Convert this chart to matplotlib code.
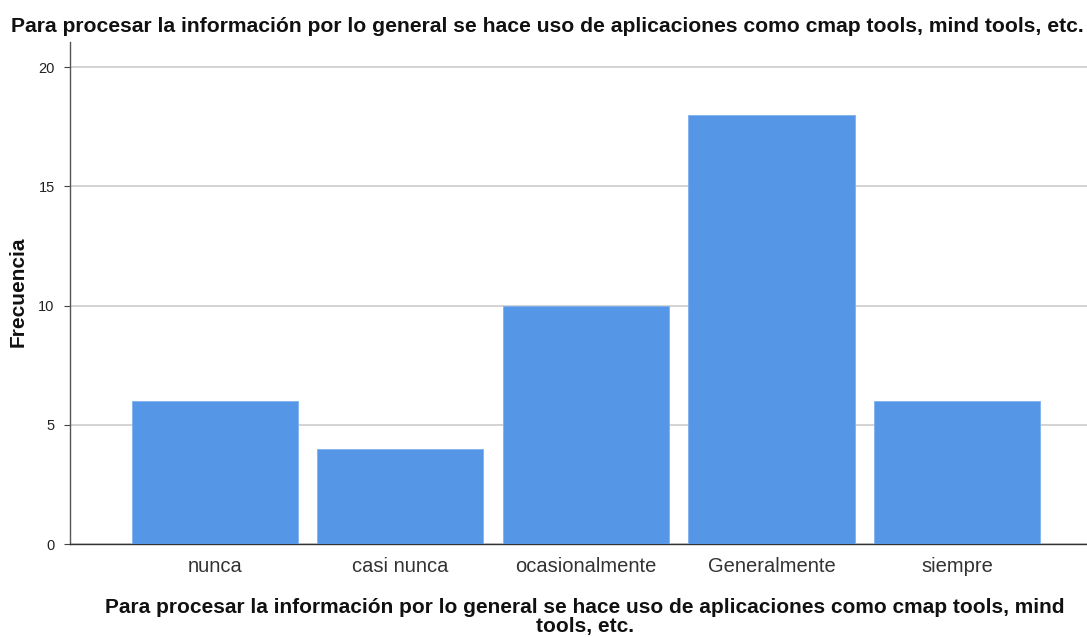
import matplotlib
matplotlib.use("Agg")
import matplotlib.pyplot as plt

categories = ["nunca", "casi nunca", "ocasionalmente", "Generalmente", "siempre"]
frecuencia = [6, 4, 10, 18, 6]
yticks = [0, 5, 10, 15, 20]
title = "Para procesar la información por lo general se hace uso de aplicaciones como cmap tools, mind tools, etc."
xlabel = "Para procesar la información por lo general se hace uso de aplicaciones como cmap tools, mind\ntools, etc."
ylabel = "Frecuencia"

plt.rcParams['font.family'] = ['Liberation Sans', 'DejaVu Sans']

fig = plt.figure(figsize=(10.87, 6.37), dpi=100)
ax = fig.add_axes([70/1087, 1-544/637, 1-70/1087, (544-42)/637])

x = list(range(len(categories)))
ax.bar(x, frecuencia, width=0.895, color="#5596E6", edgecolor="#7FB0EE", linewidth=0.6, zorder=3)
ax.set_xlim(-0.78, 4.70)
ax.set_ylim(0, 21.05)
ax.set_yticks(yticks)
ax.set_xticks(x)
ax.set_xticklabels(categories, fontsize=14.5)
ax.tick_params(axis='x', length=0, pad=9, colors="#333333")
ax.tick_params(axis='y', length=4, width=0.8, color="#444444", labelsize=10.5, pad=7, labelcolor="#222222")
ax.grid(axis='y', color="#CCCCCC", linewidth=1.2, zorder=0)
for s in ["top", "right"]:
    ax.spines[s].set_visible(False)
ax.spines["left"].set_color("#555555")
ax.spines["bottom"].set_color("#333333")
ax.spines["left"].set_linewidth(1.0)
ax.spines["bottom"].set_linewidth(1.0)

fig.text(547/1087, 1-27/637, title, ha="center", va="center", fontsize=15.2, fontweight="bold", color="#111111")
fig.text(18/1087, 1-292/637, ylabel, ha="center", va="center", rotation=90, fontsize=15, fontweight="bold", color="#111111")
fig.text(585/1087, 1-617/637, xlabel, ha="center", va="center", fontsize=15, fontweight="bold",
         linespacing=0.98, color="#111111")

fig.savefig("out.png", dpi=100)
